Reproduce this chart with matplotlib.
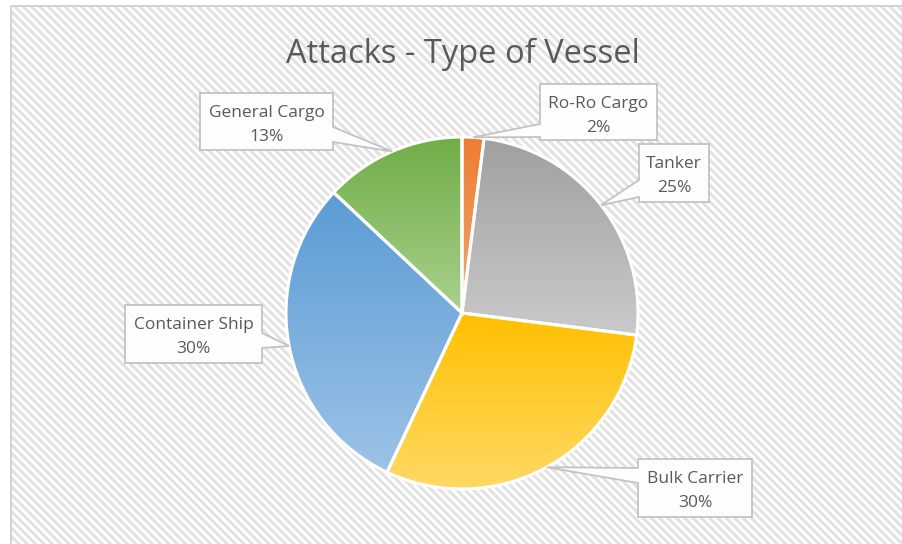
import numpy as np
import matplotlib
matplotlib.use("Agg")
import matplotlib.pyplot as plt
from matplotlib.patches import Rectangle, Polygon
from matplotlib.colors import to_rgb

# data
categories = ['Ro-Ro Cargo', 'Tanker', 'Bulk Carrier', 'Container Ship', 'General Cargo']
shares = [2, 25, 30, 30, 13]
top_colors = ['#ED7D31', '#A0A0A0', '#FFC000', '#5B9BD5', '#70AD47']
bottom_colors = ['#F4A672', '#CACACA', '#FFD966', '#9DC3E6', '#A9D18E']

W, H = 903, 544
plt.rcParams['font.family'] = ['Open Sans', 'DejaVu Sans']
plt.rcParams['hatch.linewidth'] = 2.2
TXT = '#595959'

fig = plt.figure(figsize=(W / 100, H / 100), dpi=100)
fig.patch.set_facecolor('white')
ax = fig.add_axes([0, 0, 1, 1])

def iy(y):  # image row -> axes y
    return H - y

# hatched chart area, its right and bottom edges run off the picture
ax.add_patch(Rectangle((11, -10), W, iy(6) + 10, facecolor='white',
                       edgecolor='#e2e2e2', hatch='\\\\\\\\', lw=1.2, zorder=0))
ax.add_patch(Rectangle((11, -10), W, iy(6) + 10, facecolor='none',
                       edgecolor='#d0d0d0', lw=1.2, zorder=0.5))

cx, cy, R = 462, iy(313), 176
wedges, _ = ax.pie(shares, radius=R, center=(cx, cy), startangle=90,
                   counterclock=False, colors=['none'] * len(shares),
                   wedgeprops=dict(edgecolor='white', linewidth=2.2, zorder=3))

# vertical gradient inside every slice
for w, c0, c1 in zip(wedges, top_colors, bottom_colors):
    v = w.get_path().vertices
    x0, x1 = v[:, 0].min(), v[:, 0].max()
    y0, y1 = v[:, 1].min(), v[:, 1].max()
    t = np.linspace(0, 1, 256)[:, None, None]
    grad = (1 - t) * np.array(to_rgb(c0)) + t * np.array(to_rgb(c1))
    im = ax.imshow(grad, extent=(x0, x1, y0, y1), origin='upper',
                   aspect='auto', interpolation='bilinear', zorder=2)
    im.set_clip_path(w)

# callouts: box (left, top, right, bottom) in image px, pointer side, base rows
boxes = {
    'Ro-Ro Cargo': ((540, 84, 657, 140), 'left', (124, 137)),
    'Tanker': ((639, 144, 709, 202), 'left', (180, 197)),
    'Bulk Carrier': ((638, 459, 752, 517), 'left', (468, 483)),
    'Container Ship': ((125, 305, 262, 363), 'right', (333, 348)),
    'General Cargo': ((200, 93, 333, 150), 'right', (127, 142)),
}

for w, name, val in zip(wedges, categories, shares):
    (l, t, r, b), side, (p0, p1) = boxes[name]
    th = np.deg2rad((w.theta1 + w.theta2) / 2)
    tip = (cx + R * np.cos(th), cy + R * np.sin(th))
    if side == 'left':
        pts = [(l, iy(t)), (r, iy(t)), (r, iy(b)), (l, iy(b)),
               (l, iy(p1)), tip, (l, iy(p0))]
    else:
        pts = [(l, iy(t)), (r, iy(t)), (r, iy(p0)), tip, (r, iy(p1)),
               (r, iy(b)), (l, iy(b))]
    ax.add_patch(Polygon(pts, closed=True, facecolor='white', alpha=0.93,
                         edgecolor='#bfbfbf', lw=1.3, zorder=4))
    xm = (l + r) / 2
    ax.text(xm, iy(t + 24), name, ha='center', va='baseline',
            fontsize=12.5, color=TXT, zorder=5)
    ax.text(xm, iy(t + 48), f'{val}%', ha='center', va='baseline',
            fontsize=12.5, color=TXT, zorder=5)

ax.text(463, iy(63), 'Attacks - Type of Vessel', ha='center', va='baseline',
        fontsize=23.5, color=TXT, zorder=5)

ax.set_xlim(0, W)
ax.set_ylim(0, H)
ax.axis('off')
fig.savefig('out.png', dpi=100)
